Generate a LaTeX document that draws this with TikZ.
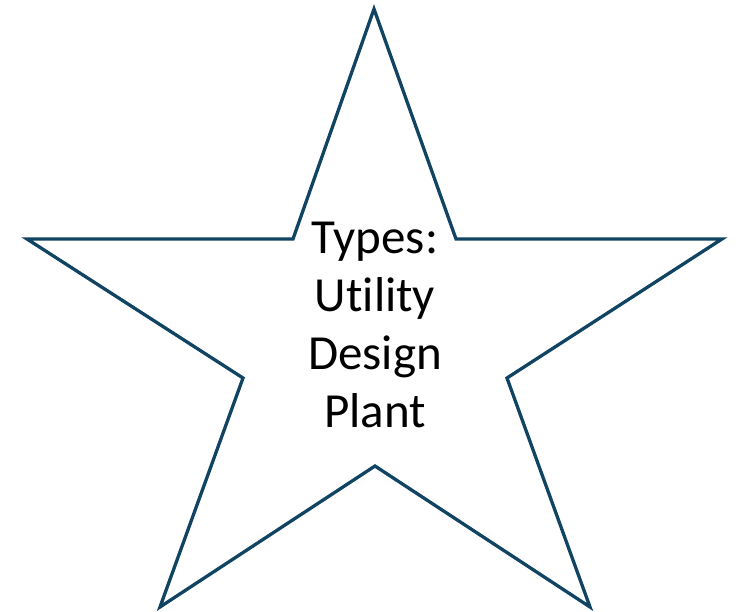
\documentclass[tikz,border=0pt]{standalone}
\usepackage{fontspec}
\setmainfont[Ligatures={NoCommon,NoRequired,NoContextual}]{Carlito}
\definecolor{starblue}{RGB}{16,68,98}
\begin{document}
\begin{tikzpicture}[x=1pt,y=-1pt,
  starline/.style={draw=starblue,line width=3.3pt,line join=miter},
  lbl/.style={align=center,font=\fontsize{49}{58}\selectfont,text=black,inner sep=0pt}]
\useasboundingbox (0,0) rectangle (739,611);
\draw[starline] (374,9) -- (456,239) -- (722,239) -- (507,378) -- (590,607)
  -- (375,466) -- (160,607) -- (243,378) -- (27,239) -- (293,239) -- cycle;
\node[lbl,anchor=base] (t) at (375,427) {Types:\\Utility\\Design\\Plant};
\end{tikzpicture}
\end{document}
